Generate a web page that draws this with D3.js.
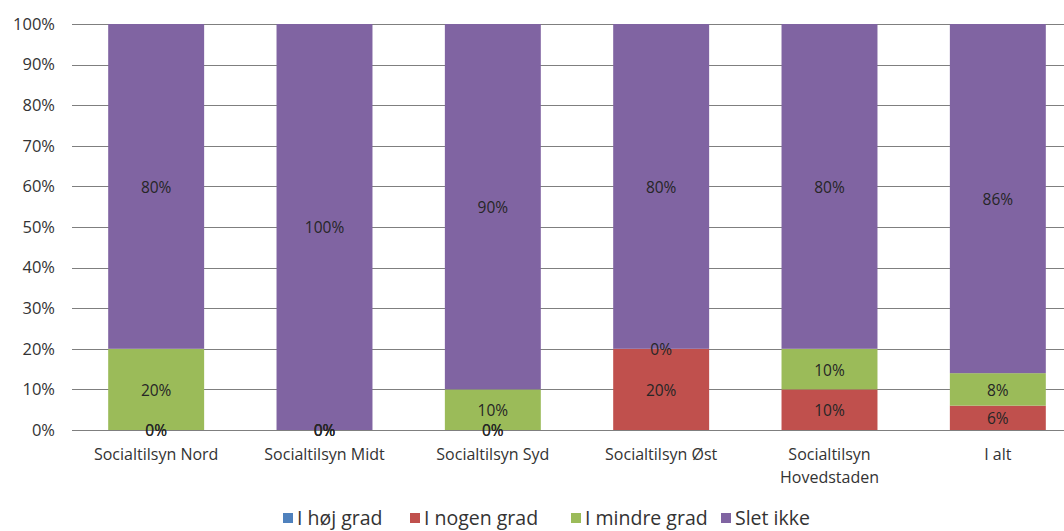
<!DOCTYPE html>
<html><head><meta charset="utf-8">
<script src="https://cdn.jsdelivr.net/npm/d3@7"></script>
<style>
body{margin:0;background:#fff;}
svg{display:block;font-family:"Open Sans","Noto Sans",sans-serif;}
</style></head>
<body><svg id="c" width="1064" height="531"></svg>
<script>
const categories = ["Socialtilsyn Nord","Socialtilsyn Midt","Socialtilsyn Syd","Socialtilsyn Øst","Socialtilsyn Hovedstaden","I alt"];
const seriesNames = ["I høj grad","I nogen grad","I mindre grad","Slet ikke"];
const hoejGrad   = [0, 0, 0, null, null, null];
const nogenGrad  = [0, 0, 0, 20, 10, 6];
const mindreGrad = [20, 0, 10, 0, 10, 8];
const sletIkke   = [80, 100, 90, 80, 80, 86];
const yTicks = [0,10,20,30,40,50,60,70,80,90,100];
const colors = ["#4F81BD","#C0504D","#9BBB59","#8064A2"];
const seriesValues = [hoejGrad, nogenGrad, mindreGrad, sletIkke];

(function(){
const svg = d3.select("#c");
const pLeft = 72, pRight = 1082, pTop = 24, pBottom = 430;
const x = d3.scaleBand().domain(categories).range([pLeft, pRight]).paddingInner(0.43).paddingOuter(0.215);
const y = d3.scaleLinear().domain([0,100]).range([pBottom, pTop]);

// gridlines
svg.append("g").selectAll("line").data(yTicks).join("line")
  .attr("x1", pLeft).attr("x2", 1064)
  .attr("y1", d=>Math.round(y(d))+0.5).attr("y2", d=>Math.round(y(d))+0.5)
  .attr("stroke", "#7f7f7f").attr("stroke-width", 1.2);

// y labels
svg.append("g").selectAll("text").data(yTicks).join("text")
  .attr("x", 55).attr("y", d=>y(d)).attr("dy","0.35em")
  .attr("text-anchor","end").attr("font-size", 16.5).attr("fill","#333")
  .text(d=>d+"%");

// stacks
const rows = categories.map((c,i)=>{
  const r = {cat:c};
  seriesNames.forEach((s,j)=>{ r[s] = seriesValues[j][i]; });
  return r;
});
const stack = d3.stack().keys(seriesNames).value((d,k)=> d[k] == null ? 0 : d[k]);
const stacked = stack(rows);

stacked.forEach((layer, j)=>{
  svg.append("g").selectAll("rect").data(layer).join("rect")
    .attr("x", d=>x(d.data.cat)).attr("width", x.bandwidth())
    .attr("y", d=>y(d[1])).attr("height", d=>y(d[0])-y(d[1]))
    .attr("fill", colors[j]);
});
stacked.forEach((layer, j)=>{
  svg.append("g").selectAll("text").data(layer.filter(d=>d.data[layer.key]!=null)).join("text")
    .attr("x", d=>x(d.data.cat)+x.bandwidth()/2)
    .attr("y", d=>y((d[0]+d[1])/2)+1).attr("dy","0.35em")
    .attr("text-anchor","middle").attr("font-size", 15.5).attr("fill","#262626")
    .text(d=>d.data[layer.key]+"%");
});

// x labels
const xl = svg.append("g");
categories.forEach(c=>{
  const cx = x(c)+x.bandwidth()/2;
  const t = xl.append("text").attr("x", cx).attr("y", 460)
    .attr("text-anchor","middle").attr("font-size", 16).attr("fill","#333");
  if (c === "Socialtilsyn Hovedstaden") {
    t.append("tspan").attr("x", cx).text("Socialtilsyn");
    t.append("tspan").attr("x", cx).attr("dy", 23).text("Hovedstaden");
  } else t.text(c);
});

// legend
const legendX = [283, 410, 571, 721];
const lg = svg.append("g");
seriesNames.forEach((s,j)=>{
  lg.append("rect").attr("x", legendX[j]).attr("y", 513).attr("width", 10).attr("height", 10).attr("fill", colors[j]);
  lg.append("text").attr("x", legendX[j]+14).attr("y", 518).attr("dy","0.35em")
    .attr("font-size", 19.5).attr("fill","#333").text(s);
});
})();
</script></body></html>
